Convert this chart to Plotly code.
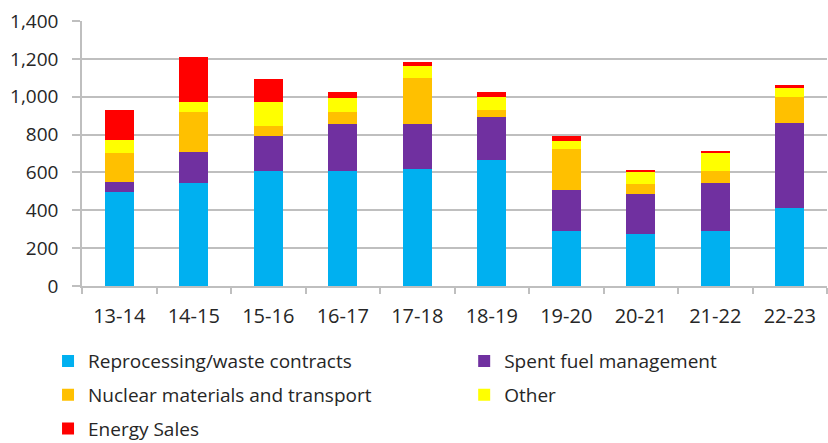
import plotly.graph_objects as go

years = ["13-14", "14-15", "15-16", "16-17", "17-18", "18-19", "19-20", "20-21", "21-22", "22-23"]

reprocessing = [495, 544, 609, 609, 618, 666, 291, 273, 291, 412]
spent_fuel = [56, 164, 183, 247, 238, 225, 214, 211, 251, 451]
nuclear_materials = [150, 209, 53, 61, 245, 39, 221, 53, 66, 134]
other = [70, 53, 129, 74, 63, 70, 38, 69, 93, 51]
energy_sales = [159, 242, 120, 32, 18, 27, 28, 7, 14, 12]

y_ticks = [0, 200, 400, 600, 800, 1000, 1200, 1400]

# (name, values, colour, legend column)
series = [
    ("Reprocessing/waste contracts", reprocessing, "#00B0F0", "legend"),
    ("Spent fuel management", spent_fuel, "#7030A0", "legend2"),
    ("Nuclear materials and transport", nuclear_materials, "#FFC000", "legend"),
    ("Other", other, "#FFFF00", "legend2"),
    ("Energy Sales", energy_sales, "#FF0000", "legend"),
]

fig = go.Figure()
for name, vals, color, leg in series:
    fig.add_trace(go.Bar(
        x=years, y=vals, name=name, legend=leg, legendgroup=name,
        marker=dict(color=color, line=dict(width=0)),
    ))

grid = "#BFBFBF"
font_family = "Open Sans, Noto Sans, sans-serif"
legend_common = dict(
    orientation="v", yanchor="top", traceorder="grouped", tracegroupgap=6,
    font=dict(size=19, color="#262626"), bgcolor="rgba(0,0,0,0)",
)

fig.update_layout(
    barmode="stack",
    bargap=0.61,
    width=828,
    height=443,
    margin=dict(l=82, r=1, t=21, b=157, autoexpand=False),
    plot_bgcolor="white",
    paper_bgcolor="white",
    font=dict(family=font_family, size=19, color="#262626"),
    xaxis=dict(
        showline=True, linecolor=grid, linewidth=1.5,
        ticks="outside", tickson="boundaries", ticklen=6, tickcolor=grid, tickwidth=1.5,
        tickfont=dict(size=20), ticklabelstandoff=11,
    ),
    yaxis=dict(
        range=[0, 1400], tickvals=y_ticks, tickformat=",",
        showgrid=True, gridcolor=grid, gridwidth=1.5,
        showline=True, linecolor=grid, linewidth=1.5,
        ticks="outside", ticklen=8, tickcolor=grid, tickwidth=1.5,
        tickfont=dict(size=19), ticklabelstandoff=10, zeroline=False,
    ),
    legend=dict(x=-0.0456, y=-0.212, **legend_common),
    legend2=dict(x=0.513, y=-0.212, **legend_common),
)

fig.write_html("out.html")
